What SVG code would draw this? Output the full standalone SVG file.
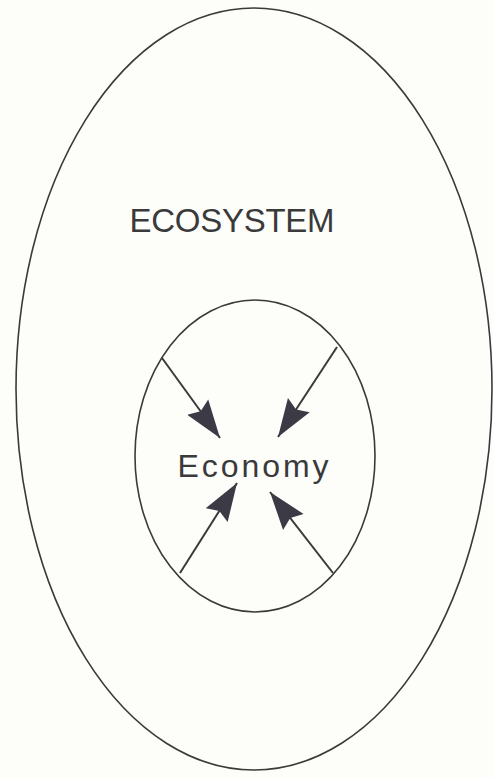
<svg xmlns="http://www.w3.org/2000/svg" width="493" height="778" viewBox="0 0 493 778">
<style>
.ring{fill:none;stroke:#3a3a3a;stroke-width:1.6}
.lbl{font-family:"Liberation Sans",Arial,sans-serif;fill:#3a3a3a}
.conn{stroke:#3a3a3a;stroke-width:2}
</style>
<defs>
<marker id="ah" markerUnits="userSpaceOnUse" viewBox="0 0 38 28" markerWidth="38" markerHeight="28" refX="38" refY="14" orient="auto">
<path d="M0,1 L38,14 L0,27 L5,14 z" fill="#3b3a45"/>
</marker>
</defs>
<rect width="493" height="778" fill="#fdfdfa"/>
<g id="ecosystem">
<ellipse class="ring" cx="254" cy="389" rx="238" ry="381"/>
<text class="lbl" x="232" y="232" font-size="33" text-anchor="middle" textLength="205">ECOSYSTEM</text>
</g>
<g id="economy">
<ellipse class="ring" cx="255" cy="456" rx="120" ry="156"/>
<text class="lbl" x="253" y="477" font-size="32" text-anchor="middle" textLength="151">Economy</text>
</g>
<g id="connectors">
<line class="conn" x1="162" y1="358" x2="220" y2="438" marker-end="url(#ah)"/>
<line class="conn" x1="337" y1="347" x2="278" y2="437" marker-end="url(#ah)"/>
<line class="conn" x1="180" y1="573" x2="237" y2="483" marker-end="url(#ah)"/>
<line class="conn" x1="333" y1="573" x2="270" y2="492" marker-end="url(#ah)"/>
</g>
</svg>
